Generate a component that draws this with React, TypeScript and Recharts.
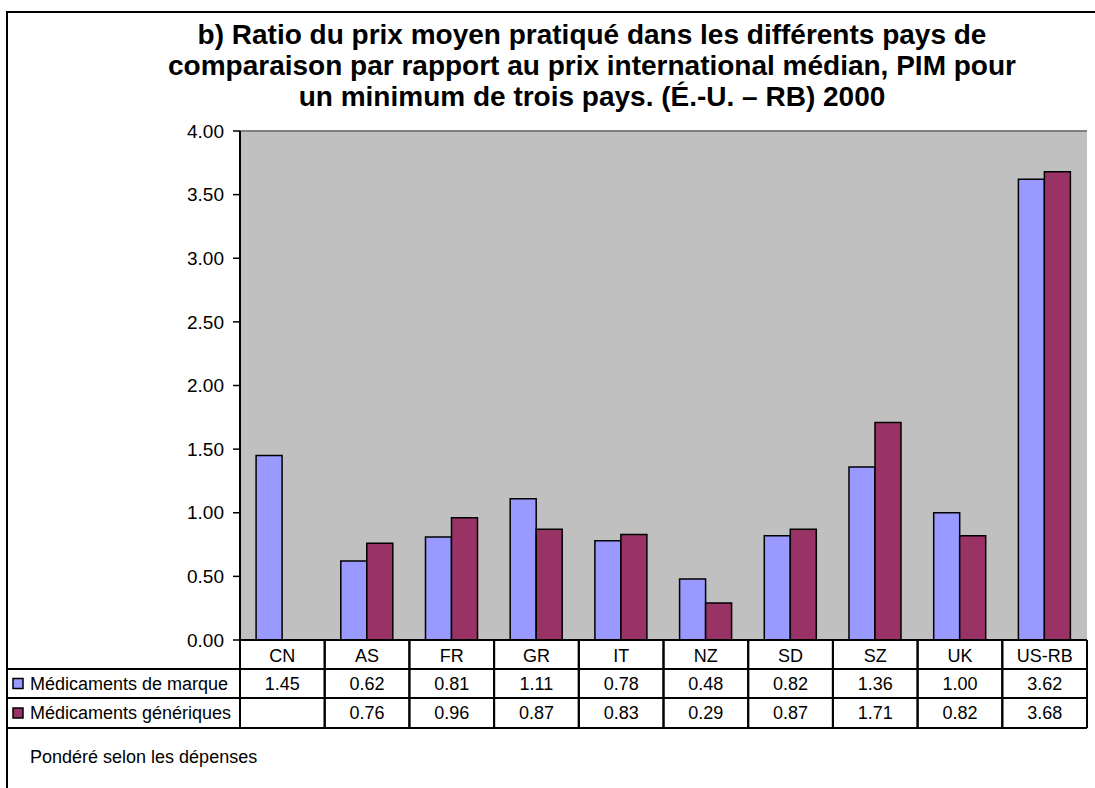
import React from 'react';
import { BarChart, Bar, XAxis, YAxis, CartesianGrid, ReferenceLine } from 'recharts';

const categories = ['CN', 'AS', 'FR', 'GR', 'IT', 'NZ', 'SD', 'SZ', 'UK', 'US-RB'];
const brandValues: (number | null)[] = [1.45, 0.62, 0.81, 1.11, 0.78, 0.48, 0.82, 1.36, 1.0, 3.62];
const genericValues: (number | null)[] = [null, 0.76, 0.96, 0.87, 0.83, 0.29, 0.87, 1.71, 0.82, 3.68];
const seriesNames = ['Médicaments de marque', 'Médicaments génériques'];
const yTicks = [0, 0.5, 1, 1.5, 2, 2.5, 3, 3.5, 4];
const titleLines = [
  'b) Ratio du prix moyen pratiqué dans les différents pays de',
  'comparaison par rapport au prix international médian, PIM pour',
  'un minimum de trois pays. (É.-U. – RB) 2000',
];
const footnote = 'Pondéré selon les dépenses';

const BLUE = '#9999FF';
const PLUM = '#993366';
const FONT = "Arial, 'Liberation Sans', sans-serif";

const W = 1095;
const H = 788;
const PLOT_LEFT = 240;
const PLOT_RIGHT = 1087;
const PLOT_TOP = 131;
const PLOT_BOTTOM = 640;
const BAND = (PLOT_RIGHT - PLOT_LEFT) / categories.length;
const ROW1 = 669;
const ROW2 = 698;
const ROW3 = 728;
const TABLE_LEFT = 7;

const data = categories.map((c, i) => ({ name: c, brand: brandValues[i], generic: genericValues[i] }));

const fmt = (v: number | null) => (v == null ? '' : v.toFixed(2));

const TableTick = (props: any) => {
  const { x, payload, index } = props;
  const half = BAND / 2;
  const i = index as number;
  return (
    <g>
      {i === 0 && (
        <g>
          <line x1={TABLE_LEFT} x2={PLOT_RIGHT} y1={ROW1} y2={ROW1} stroke="#000" strokeWidth={2} />
          <line x1={TABLE_LEFT} x2={PLOT_RIGHT} y1={ROW2} y2={ROW2} stroke="#000" strokeWidth={2} />
          <line x1={TABLE_LEFT} x2={PLOT_RIGHT} y1={ROW3} y2={ROW3} stroke="#000" strokeWidth={2} />
          <rect x={13} y={(ROW1 + ROW2) / 2 - 5} width={10} height={10} fill={BLUE} stroke="#000" strokeWidth={1.5} />
          <rect x={13} y={(ROW2 + ROW3) / 2 - 5} width={10} height={10} fill={PLUM} stroke="#000" strokeWidth={1.5} />
          <text x={30} y={(ROW1 + ROW2) / 2} dominantBaseline="central" fontSize={18} fontFamily={FONT} fill="#000">
            {seriesNames[0]}
          </text>
          <text x={30} y={(ROW2 + ROW3) / 2} dominantBaseline="central" fontSize={18} fontFamily={FONT} fill="#000">
            {seriesNames[1]}
          </text>
        </g>
      )}
      <line x1={x - half} x2={x - half} y1={PLOT_BOTTOM} y2={ROW3} stroke="#000" strokeWidth={2} />
      <line x1={x + half} x2={x + half} y1={PLOT_BOTTOM} y2={ROW3} stroke="#000" strokeWidth={2} />
      <text x={x} y={(PLOT_BOTTOM + ROW1) / 2 + 1} textAnchor="middle" dominantBaseline="central" fontSize={18} fontFamily={FONT} fill="#000">
        {payload.value}
      </text>
      <text x={x} y={(ROW1 + ROW2) / 2} textAnchor="middle" dominantBaseline="central" fontSize={18} fontFamily={FONT} fill="#000">
        {fmt(brandValues[i])}
      </text>
      <text x={x} y={(ROW2 + ROW3) / 2} textAnchor="middle" dominantBaseline="central" fontSize={18} fontFamily={FONT} fill="#000">
        {fmt(genericValues[i])}
      </text>
    </g>
  );
};

export default function App() {
  return (
    <div style={{ position: 'absolute', left: 0, top: 0, width: W, height: H, background: '#fff', overflow: 'hidden', fontFamily: FONT }}>
      <div
        style={{
          position: 'absolute',
          left: 6,
          top: 11,
          width: W,
          height: H,
          borderTop: '2px solid #000',
          borderLeft: '2px solid #000',
        }}
      />
      <div
        style={{
          position: 'absolute',
          left: 92,
          top: 19,
          width: 1000,
          textAlign: 'center',
          fontWeight: 'bold',
          fontSize: 28,
          lineHeight: '31px',
          color: '#000',
        }}
      >
        {titleLines.map((t) => (
          <div key={t}>{t}</div>
        ))}
      </div>
      <div style={{ position: 'absolute', left: 0, top: 0 }}>
        <BarChart
          width={W}
          height={H}
          data={data}
          margin={{ top: PLOT_TOP, right: W - PLOT_RIGHT, left: PLOT_LEFT - 60, bottom: 0 }}
          barCategoryGap="19%"
          barGap={0}
        >
          <CartesianGrid vertical={false} stroke="#000" strokeWidth={1.5} fill="#C0C0C0" fillOpacity={1} />
          <XAxis
            dataKey="name"
            height={H - PLOT_BOTTOM}
            axisLine={{ stroke: '#000', strokeWidth: 2 }}
            tickLine={false}
            tick={<TableTick />}
            interval={0}
          />
          <YAxis
            yAxisId="left"
            width={60}
            domain={[0, 4]}
            ticks={yTicks}
            tickFormatter={(v: number) => v.toFixed(2)}
            axisLine={{ stroke: '#000', strokeWidth: 2 }}
            tickLine={{ stroke: '#000', strokeWidth: 1.5 }}
            tickSize={7}
            tickMargin={9}
            tick={{ fontSize: 19, fill: '#000', fontFamily: FONT }}
          />
          <YAxis
            yAxisId="right"
            orientation="right"
            width={0}
            domain={[0, 4]}
            ticks={yTicks}
            tick={false}
            tickLine={false}
            axisLine={{ stroke: '#808080', strokeWidth: 2 }}
          />
          <ReferenceLine yAxisId="left" y={4} stroke="#808080" strokeWidth={2} />
          <Bar yAxisId="left" dataKey="brand" name={seriesNames[0]} fill={BLUE} stroke="#000" strokeWidth={1.5} isAnimationActive={false} />
          <Bar yAxisId="left" dataKey="generic" name={seriesNames[1]} fill={PLUM} stroke="#000" strokeWidth={1.5} isAnimationActive={false} />
        </BarChart>
      </div>
      <div style={{ position: 'absolute', left: 30, top: 746, fontSize: 18, lineHeight: '22px', color: '#000' }}>{footnote}</div>
    </div>
  );
}
